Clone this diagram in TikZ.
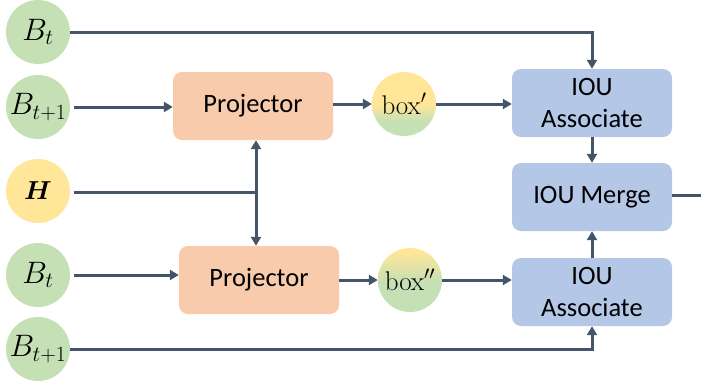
\RequirePackage{fix-cm}
\documentclass[tikz,border=0pt]{standalone}
\usepackage{amsmath}
\usepackage[no-math]{fontspec}
\setmainfont{Carlito}
\usetikzlibrary{arrows.meta}
\definecolor{cgreen}{HTML}{C5E0B4}
\definecolor{cyellow}{HTML}{FFE699}
\definecolor{corange}{HTML}{F8CBAD}
\definecolor{cblue}{HTML}{B4C7E7}
\definecolor{cline}{HTML}{44546A}
\pgfdeclareverticalshading{shadeA}{64bp}{color(0bp)=(cgreen!70!white); color(8bp)=(cgreen); color(18bp)=(cgreen); color(32bp)=(cyellow); color(64bp)=(cyellow)}
\pgfdeclareverticalshading{shadeB}{64bp}{color(0bp)=(cgreen!70!white); color(8bp)=(cgreen); color(30bp)=(cgreen); color(54bp)=(cyellow); color(64bp)=(cyellow)}
\tikzset{
  incirc/.style={circle, minimum size=64pt, inner sep=0pt, font=\fontsize{31}{38}\selectfont},
  gcirc/.style={incirc, fill=cgreen},
  ycirc/.style={incirc, fill=cyellow},
  boxcirc/.style={circle, minimum size=64pt, inner sep=0pt, font=\fontsize{27}{33}\selectfont},
  proc/.style={rounded corners=9pt, minimum width=160pt, minimum height=68pt, inner sep=0pt, font=\fontsize{26.5}{32}\selectfont, align=center},
  projbox/.style={proc, fill=corange},
  ioubox/.style={proc, fill=cblue},
  conn/.style={draw=cline, line width=3pt},
  arr/.style={conn, -{Triangle[length=9pt,width=10pt]}}
}
\begin{document}
\begin{tikzpicture}[x=1pt,y=-1pt]
\useasboundingbox (0,0) rectangle (701,386);
\node[gcirc] (Bt1) at (38,32) {$B_t$};
\node[gcirc] (Bt1p) at (38,107) {$B_{t+1}$};
\node[ycirc, font=\fontsize{26}{32}\selectfont] (H) at (38,191) {$\boldsymbol{H}$};
\node[gcirc] (Bt2) at (38,275) {$B_t$};
\node[gcirc] (Bt2p) at (38,349) {$B_{t+1}$};
\node[projbox] (P1) at (253,106) {Projector};
\node[projbox] (P2) at (259,280) {Projector};
\node[boxcirc, shading=shadeA] (b1) at (404,104) {$\mathrm{box}'$};
\node[boxcirc, shading=shadeB] (b2) at (410,280) {$\mathrm{box}''$};
\node[ioubox] (A1) at (592,103) {IOU\\Associate};
\node[ioubox] (M) at (592,197) {IOU Merge};
\node[ioubox] (A2) at (592,292) {IOU\\Associate};
\coordinate (J) at (256,192);
\coordinate (out) at (701,195);
\draw[arr] (Bt1.east) -| (A1.north);
\draw[arr, shorten <=4pt] (Bt1p.east) -- (Bt1p -| P1.west);
\draw[arr] (P1.east |- b1) -- (b1.west);
\draw[arr] (b1.east) -- (A1.west |- b1);
\draw[conn, shorten <=4pt] (H.east |- J) -- (J);
\draw[arr] (J) -- (J |- P1.south);
\draw[arr] (J) -- (J |- P2.north);
\draw[arr, shorten <=4pt] (Bt2.east) -- (Bt2 -| P2.west);
\draw[arr] (P2.east |- b2) -- (b2.west);
\draw[arr] (b2.east) -- (b2 -| A2.west);
\draw[arr] (Bt2p.east) -| (A2.south);
\draw[arr] (A1.south) -- (M.north);
\draw[arr] (A2.north) -- (M.south);
\draw[conn] (M.east |- out) -- (out);
\end{tikzpicture}
\end{document}
